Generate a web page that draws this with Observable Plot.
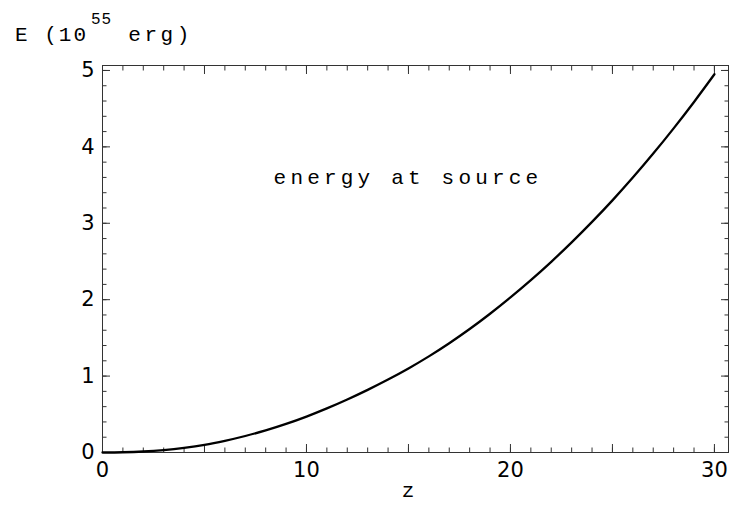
<!DOCTYPE html>
<html><head><meta charset="utf-8">
<script src="https://cdn.jsdelivr.net/npm/d3@7"></script>
<script src="https://cdn.jsdelivr.net/npm/@observablehq/plot@0.6"></script>
<style>body{margin:0;background:#fff}</style>
</head><body><div id="chart"></div>
<script>
// redshift z
const zValues = [0,1,2,3,4,5,6,7,8,9,10,11,12,13,14,15,16,17,18,19,20,21,22,23,24,25,26,27,28,29,30];
// energy at source, units of 1e55 erg
const energyValues = [0,0.003,0.013,0.032,0.061,0.100,0.153,0.216,0.289,0.374,0.470,0.577,0.694,0.820,0.955,1.100,1.258,1.430,1.616,1.816,2.030,2.256,2.496,2.750,3.018,3.300,3.598,3.912,4.242,4.588,4.950];

const xLabelTicks = [0,10,20,30];
const xMajorTicks = [0,5,10,15,20,25,30];
const xMinorTicks = [0,1,2,3,4,5,6,7,8,9,10,11,12,13,14,15,16,17,18,19,20,21,22,23,24,25,26,27,28,29,30];
const yLabelTicks = [0,1,2,3,4,5];
const yMinorTicks = [0,0.2,0.4,0.6,0.8,1,1.2,1.4,1.6,1.8,2,2.2,2.4,2.6,2.8,3,3.2,3.4,3.6,3.8,4,4.2,4.4,4.6,4.8,5];

const data = zValues.map((z, i) => ({z, E: energyValues[i]}));
const tickColor = "#333";
const none = () => "";
const plain = (d) => String(d);

const chart = Plot.plot({
  width: 729, height: 506,
  marginLeft: 102, marginRight: 1, marginTop: 65, marginBottom: 54,
  style: {fontFamily: "DejaVu Sans", fontSize: "21px", background: "#fff", color: "#000"},
  x: {domain: [0, 30.69]},
  y: {domain: [0, 5.065]},
  marks: [
    Plot.axisX(xMinorTicks, {anchor: "bottom", tickSize: -4.5, tickFormat: none, label: null, stroke: tickColor}),
    Plot.axisX(xMajorTicks, {anchor: "bottom", tickSize: -8, tickFormat: none, label: null, stroke: tickColor}),
    Plot.axisX(xMinorTicks, {anchor: "top", tickSize: -4.5, tickFormat: none, label: null, stroke: tickColor}),
    Plot.axisX(xMajorTicks, {anchor: "top", tickSize: -8, tickFormat: none, label: null, stroke: tickColor}),
    Plot.axisX(xLabelTicks, {anchor: "bottom", tickSize: 0, tickPadding: 10, tickFormat: plain, label: null, fontSize: 21}),
    Plot.axisY(yMinorTicks, {anchor: "left", tickSize: -4.5, tickFormat: none, label: null, stroke: tickColor}),
    Plot.axisY(yLabelTicks, {anchor: "left", tickSize: -8, tickFormat: none, label: null, stroke: tickColor}),
    Plot.axisY(yMinorTicks, {anchor: "right", tickSize: -4.5, tickFormat: none, label: null, stroke: tickColor}),
    Plot.axisY(yLabelTicks, {anchor: "right", tickSize: -8, tickFormat: none, label: null, stroke: tickColor}),
    Plot.axisY(yLabelTicks, {anchor: "left", tickSize: 0, tickPadding: 8, tickFormat: plain, label: null, fontSize: 21}),
    Plot.frame({stroke: tickColor, strokeWidth: 1}),
    Plot.line(data, {x: "z", y: "E", curve: "catmull-rom", stroke: "#000", strokeWidth: 2.3})
  ]
});
document.getElementById("chart").appendChild(chart);

const svg = d3.select(chart);
const mono = "'Liberation Mono', 'Courier New', monospace";
const xs = chart.scale("x"), ys = chart.scale("y");
const frameCx = (xs.range[0] + xs.range[1]) / 2;

// y-axis title with superscript
const title = svg.append("text")
  .attr("x", 15).attr("y", 41)
  .attr("text-anchor", "start")
  .attr("font-family", mono).attr("font-size", 21)
  .attr("fill", "#000");
title.append("tspan").attr("letter-spacing", 2).text("E (10");
title.append("tspan").attr("dx", 3).attr("dy", -17).attr("font-size", 16).attr("letter-spacing", 1).text("55");
title.append("tspan").attr("dx", 0).attr("dy", 17).attr("letter-spacing", 3.5).text(" erg)");

// x-axis title
svg.append("text")
  .attr("x", frameCx - 7).attr("y", ys.range[0] + 45)
  .attr("text-anchor", "middle")
  .attr("font-family", mono).attr("font-size", 21).attr("fill", "#000")
  .text("z");

// annotation
svg.append("text")
  .attr("x", frameCx - 7).attr("y", ys.range[1] + 119)
  .attr("text-anchor", "middle")
  .attr("font-family", mono).attr("font-size", 21)
  .attr("letter-spacing", 4.2).attr("fill", "#000")
  .text("energy at source");
</script>
</body></html>
